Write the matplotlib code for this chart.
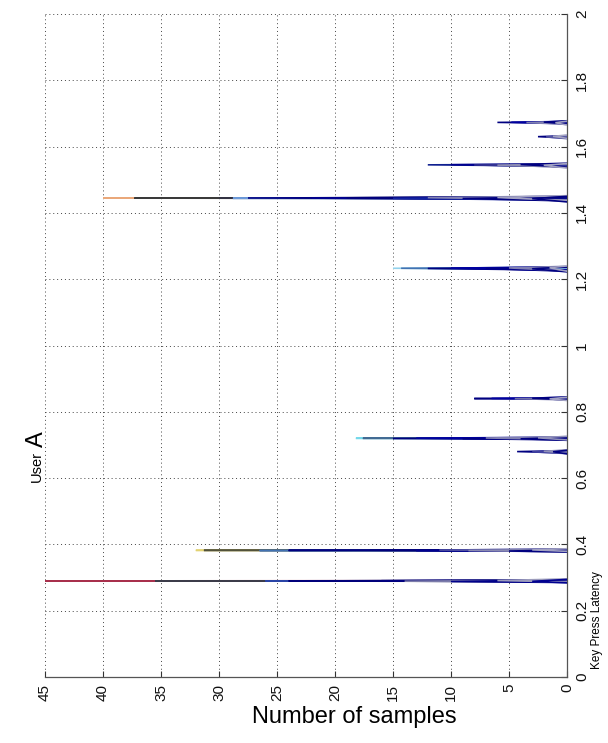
import matplotlib
matplotlib.use("Agg")
import matplotlib.pyplot as plt
import numpy as np

plt.rcParams['font.family'] = ['Liberation Sans', 'DejaVu Sans']

# Latency histogram spikes: peak latency (s), sample count at the peak,
# and the latencies where each spike leaves / returns to zero.
spike_peak = [
    0.2900, 0.2895, 0.2900, 0.2898, 0.2905, 0.2890, 0.2880, 0.2910, 0.2885,
    0.3820, 0.3820, 0.3815, 0.3820, 0.3825, 0.3810, 0.3830, 0.3815, 0.3800, 0.3835,
    0.6800, 0.6790, 0.6810, 0.6795,
    0.7200, 0.7200, 0.7195, 0.7205, 0.7190, 0.7210, 0.7185, 0.7215,
    0.8400, 0.8405, 0.8395, 0.8410, 0.8390,
    1.2330, 1.2330, 1.2325, 1.2335, 1.2320, 1.2340, 1.2315, 1.2345,
    1.4450, 1.4445, 1.4450, 1.4440, 1.4450, 1.4445, 1.4455, 1.4440, 1.4460, 1.4435, 1.4465, 1.4430,
    1.5450, 1.5455, 1.5445, 1.5440, 1.5460, 1.5435,
    1.6300, 1.6290, 1.6310,
    1.6730, 1.6735, 1.6725, 1.6740, 1.6720,
]
spike_count = [
    45.0, 35.5, 26.0, 24.0, 16.0, 14.0, 10.0, 6.0, 3.0,
    32.0, 31.3, 26.5, 24.0, 17.0, 13.0, 11.0, 8.5, 5.0, 3.0,
    4.3, 3.0, 2.0, 1.2,
    18.2, 17.6, 15.0, 13.0, 9.0, 7.0, 4.0, 2.5,
    8.0, 6.5, 4.5, 3.0, 1.5,
    15.0, 14.3, 12.0, 10.0, 7.0, 5.0, 3.0, 1.5,
    40.0, 37.3, 30.0, 28.8, 27.5, 22.0, 19.0, 15.0, 12.0, 9.0, 6.0, 3.0,
    12.0, 10.0, 8.0, 6.0, 4.0, 2.0,
    2.5, 1.8, 1.2,
    6.0, 4.8, 3.5, 2.0, 1.0,
]
spike_lo = [
    0.2892, 0.2885, 0.2885, 0.2880, 0.2870, 0.2860, 0.2850, 0.2865, 0.2840,
    0.3812, 0.3810, 0.3805, 0.3800, 0.3800, 0.3785, 0.3800, 0.3780, 0.3770, 0.3790,
    0.6760, 0.6740, 0.6750, 0.6730,
    0.7190, 0.7185, 0.7170, 0.7170, 0.7150, 0.7160, 0.7140, 0.7150,
    0.8380, 0.8375, 0.8360, 0.8360, 0.8340,
    1.2300, 1.2290, 1.2270, 1.2270, 1.2240, 1.2250, 1.2220, 1.2240,
    1.4440, 1.4430, 1.4430, 1.4420, 1.4420, 1.4410, 1.4400, 1.4380, 1.4390, 1.4360, 1.4370, 1.4330,
    1.5410, 1.5405, 1.5390, 1.5380, 1.5380, 1.5350,
    1.6260, 1.6240, 1.6250,
    1.6700, 1.6690, 1.6670, 1.6680, 1.6650,
]
spike_hi = [
    0.2908, 0.2910, 0.2915, 0.2918, 0.2935, 0.2925, 0.2935, 0.2960, 0.2945,
    0.3828, 0.3832, 0.3830, 0.3840, 0.3850, 0.3845, 0.3860, 0.3850, 0.3840, 0.3870,
    0.6830, 0.6830, 0.6850, 0.6840,
    0.7210, 0.7215, 0.7220, 0.7235, 0.7230, 0.7250, 0.7225, 0.7260,
    0.8420, 0.8430, 0.8425, 0.8450, 0.8440,
    1.2350, 1.2360, 1.2360, 1.2375, 1.2370, 1.2390, 1.2370, 1.2400,
    1.4460, 1.4460, 1.4470, 1.4465, 1.4480, 1.4480, 1.4495, 1.4490, 1.4510, 1.4490, 1.4520, 1.4500,
    1.5470, 1.5480, 1.5475, 1.5480, 1.5500, 1.5490,
    1.6330, 1.6320, 1.6350,
    1.6750, 1.6760, 1.6760, 1.6780, 1.6770,
]

# Line colours, one per spike
spike_colors = [
    '#a8304c', '#3c3c4a', '#2a44a6', '#00007a', '#000080', '#7c7caa', '#00008a', '#9c9cbc', '#000090',
    '#e2d272', '#52523a', '#4272b2', '#000080', '#00007a', '#000090', '#5252a2', '#8a8ab2', '#000080', '#a2a2c2',
    '#000080', '#4040a0', '#9090b8', '#000080',
    '#74d8ea', '#426a92', '#000080', '#0000a0', '#000085', '#8282b2', '#000080', '#9292ba',
    '#000080', '#0000a0', '#7272aa', '#000080', '#a2a2c2',
    '#92d2ec', '#4272b2', '#000080', '#0000a0', '#000088', '#8282b2', '#000080', '#a2a2c2',
    '#eaa87a', '#3a3a3a', '#323242', '#6c9ada', '#000080', '#000090', '#00007a', '#1222a2', '#8282b2', '#000080', '#a2a2c2', '#000080',
    '#102090', '#000090', '#323292', '#8a8ab2', '#000080', '#a2a2c2',
    '#000080', '#5252a2', '#a2a2c2',
    '#000080', '#0000a0', '#8282b2', '#000080', '#a2a2c2',
]

count_ticks = list(range(0, 50, 5))
latency_ticks = [0, 0.2, 0.4, 0.6, 0.8, 1.0, 1.2, 1.4, 1.6, 1.8, 2.0]
latency_labels = ['0', '0.2', '0.4', '0.6', '0.8', '1', '1.2', '1.4', '1.6', '1.8', '2']

fig = plt.figure(figsize=(6.08, 7.43), dpi=100)
ax = fig.add_axes([45 / 608, 66 / 743, 522 / 608, 663 / 743])

# Draw taller spikes first so the shorter ones overlay them
order = np.argsort(spike_count)[::-1]
for i in order:
    ax.plot([0, spike_count[i], 0],
            [spike_lo[i], spike_peak[i], spike_hi[i]],
            color=spike_colors[i], lw=1.15, solid_joinstyle='miter', zorder=3)

ax.set_xlim(45, 0)
ax.set_ylim(0, 2)
ax.set_xticks(count_ticks)
ax.set_xticklabels([str(c) for c in count_ticks])
ax.set_yticks(latency_ticks)
ax.set_yticklabels(latency_labels)
ax.yaxis.tick_right()

ax.grid(True, color='#444444', linestyle=(0, (1, 3)), linewidth=0.7)
ax.set_axisbelow(True)

for side in ('top', 'left'):
    ax.spines[side].set_visible(False)
for side in ('bottom', 'right'):
    ax.spines[side].set_color('#555555')
    ax.spines[side].set_linewidth(0.9)

ax.tick_params(axis='both', direction='in', length=4, width=0.8,
               color='#333333', labelsize=11, labelcolor='#111111')
ax.tick_params(axis='x', labelrotation=90, pad=5)
ax.tick_params(axis='y', labelrotation=90, pad=6)
for lab in ax.get_yticklabels():
    lab.set_verticalalignment('center')

ax.set_xlabel('Number of samples', fontsize=17)
ax.xaxis.label.set_verticalalignment('center')
ax.xaxis.set_label_coords((354 - 45) / 522, -40 / 663, transform=ax.transAxes)

fig.text(597 / 608, 1 - 620 / 743, 'Key Press Latency', rotation=90,
         fontsize=8.5, ha='center', va='center')

fig.text(37 / 608, 1 - 467 / 743, 'User', rotation=90, fontsize=10.5,
         ha='center', va='center')
fig.text(37 / 608, 1 - 439 / 743, 'A', rotation=90, fontsize=17,
         ha='center', va='center')

fig.savefig('out.png', dpi=100)
